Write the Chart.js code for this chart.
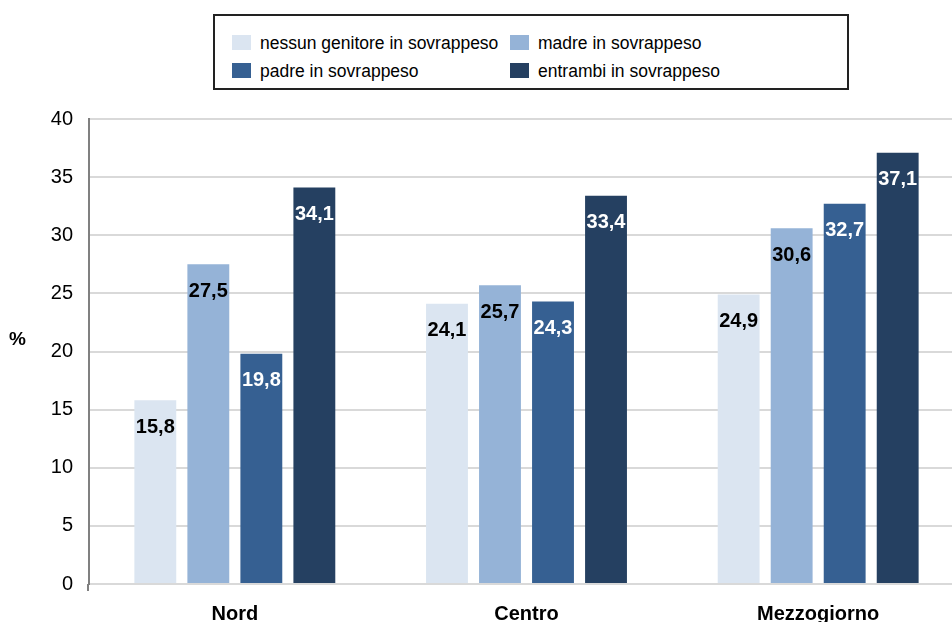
<!DOCTYPE html>
<html>
<head>
<meta charset="utf-8">
<script src="https://cdn.jsdelivr.net/npm/chart.js@4"></script>
<style>
    body { margin: 0; background: #fff; overflow: hidden; font-family: "Liberation Sans", Arial, sans-serif; }
    #wrap { position: relative; width: 952px; height: 622px; overflow: hidden; }
    #box { position: absolute; left: 0; top: 0; width: 970px; height: 622px; }
    #legend { position: absolute; left: 213px; top: 14px; width: 632px; height: 72px; border: 2px solid #222; background: #fff; }
    .item { position: absolute; font-size: 17.5px; color: #000; white-space: nowrap; line-height: 20px; }
    .item span.sw { display: inline-block; width: 19px; height: 15px; vertical-align: -1px; margin-right: 9px; }
    #ytitle { position: absolute; left: 9px; top: 328px; font-size: 19px; font-weight: bold; }
</style>
</head>
<body>
<div id="wrap">
    <div id="box"><canvas id="chart"></canvas></div>
    <div id="legend"></div>
    <div id="ytitle">%</div>
</div>
<script>
// chart data
let categories = ["Nord", "Centro", "Mezzogiorno"]
let series_names = ["nessun genitore in sovrappeso", "madre in sovrappeso", "padre in sovrappeso", "entrambi in sovrappeso"]
let nessuno = [15.8, 24.1, 24.9]
let madre = [27.5, 25.7, 30.6]
let padre = [19.8, 24.3, 32.7]
let entrambi = [34.1, 33.4, 37.1]
let colors = ["#dbe5f1", "#95b3d7", "#366092", "#254061"]
let label_colors = ["#000", "#000", "#fff", "#fff"]

// html legend, two columns
let legend_pos = [[17, 17], [17, 45], [295, 17], [295, 45]]
let legend_order = [0, 2, 1, 3]
let legend = document.querySelector("#legend")
legend_order.forEach((idx, i) => {
    let div = document.createElement("div")
    div.className = "item"
    div.style.left = legend_pos[i][0] + "px"
    div.style.top = legend_pos[i][1] + "px"
    div.innerHTML = '<span class="sw" style="background:' + colors[idx] + '"></span>' + series_names[idx]
    legend.appendChild(div)
})

// values drawn inside the bars near the top
let bar_labels = {
    id: "bar_labels",
    afterDatasetsDraw(chart) {
        let ctx = chart.ctx
        ctx.save()
        ctx.font = "bold 20px 'Liberation Sans', Arial, sans-serif"
        ctx.textAlign = "center"
        ctx.textBaseline = "middle"
        chart.data.datasets.forEach((ds, i) => {
            chart.getDatasetMeta(i).data.forEach((bar, j) => {
                ctx.fillStyle = label_colors[i]
                ctx.fillText(ds.data[j].toFixed(1).replace(".", ","), bar.x, bar.y + 27)
            })
        })
        // little tick below the axis
        let a = chart.chartArea
        ctx.strokeStyle = "#808080"
        ctx.lineWidth = 2
        ctx.beginPath()
        ctx.moveTo(a.left - 1, a.bottom)
        ctx.lineTo(a.left - 1, a.bottom + 7)
        ctx.stroke()
        ctx.restore()
    }
}

let all_data = [nessuno, madre, padre, entrambi]

new Chart(document.querySelector("#chart"), {
    type: "bar",
    data: {
        labels: categories,
        datasets: all_data.map((d, i) => ({
            label: series_names[i],
            data: d,
            backgroundColor: colors[i],
            barPercentage: 0.79,
            categoryPercentage: 0.727
        }))
    },
    options: {
        responsive: true,
        maintainAspectRatio: false,
        animation: false,
        layout: { padding: { top: 119, right: 6, left: 0, bottom: 0 } },
        plugins: {
            legend: { display: false },
            tooltip: { enabled: false }
        },
        scales: {
            x: {
                grid: { display: false },
                border: { display: false },
                ticks: {
                    color: "#000",
                    padding: 10,
                    font: { family: "'Liberation Sans', Arial", size: 20, weight: "bold" }
                },
                afterFit(scale) { scale.height = 38 }
            },
            y: {
                min: 0,
                max: 40,
                ticks: {
                    stepSize: 5,
                    color: "#000",
                    padding: 16,
                    font: { family: "'Liberation Sans', Arial", size: 20 }
                },
                grid: { color: "#d9d9d9", lineWidth: 2, drawTicks: false },
                border: { color: "#808080", width: 2 },
                afterFit(scale) { scale.width = 89 }
            }
        }
    },
    plugins: [bar_labels]
})
</script>
</body>
</html>
